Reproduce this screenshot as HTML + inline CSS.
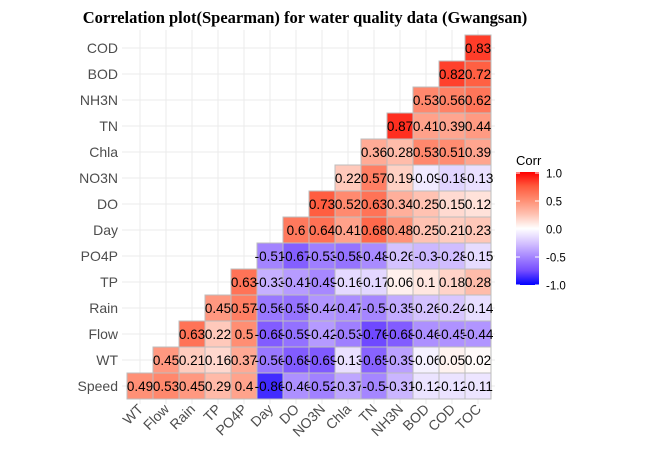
<!DOCTYPE html>
<html><head><meta charset="utf-8"><style>
body{margin:0;background:#fff;}
svg{display:block;font-family:"Liberation Sans",sans-serif;}
</style></head><body>
<svg id="chart" width="645" height="459">
<text x="305" y="23" text-anchor="middle" font-family="Liberation Serif, serif" font-weight="bold" font-size="16.5" fill="#000">Correlation plot(Spearman) for water quality data (Gwangsan)</text>
<g id="grid"></g>
<g id="tiles"></g>
<g id="labels"></g>
<g id="legend">
<text x="516" y="165" font-size="13" fill="#000">Corr</text>
<defs><linearGradient id="lg" x1="0" y1="0" x2="0" y2="1">
<stop offset="0" stop-color="#FF0000"/><stop offset="0.125" stop-color="#FF5A3D"/><stop offset="0.25" stop-color="#FF8E73"/><stop offset="0.375" stop-color="#FFC2B2"/><stop offset="0.5" stop-color="#FFFFFF"/><stop offset="0.625" stop-color="#D6C4FF"/><stop offset="0.75" stop-color="#A586FF"/><stop offset="0.875" stop-color="#744CFF"/><stop offset="1" stop-color="#0000FF"/>
</linearGradient></defs>
<rect x="516" y="172" width="23" height="113" fill="url(#lg)"/>
</g>
</svg>
<script>
const xVars=["WT","Flow","Rain","TP","PO4P","Day","DO","NO3N","Chla","TN","NH3N","BOD","COD","TOC"];
const yVars=["Speed","WT","Flow","Rain","TP","PO4P","Day","DO","NO3N","Chla","TN","NH3N","BOD","COD"];
const corrRows=[
[0.49,0.53,0.45,0.29,0.4,-0.86,-0.46,-0.52,-0.37,-0.5,-0.31,-0.12,-0.12,-0.11],
[0.45,0.21,0.16,0.37,-0.56,-0.68,-0.69,-0.13,-0.65,-0.39,-0.06,0.05,0.02],
[0.63,0.22,0.5,-0.68,-0.59,-0.42,-0.53,-0.76,-0.68,-0.46,-0.45,-0.44],
[0.45,0.57,-0.56,-0.58,-0.44,-0.47,-0.5,-0.35,-0.26,-0.24,-0.14],
[0.63,-0.33,-0.41,-0.49,-0.16,-0.17,0.06,0.1,0.18,0.28],
[-0.51,-0.67,-0.53,-0.58,-0.48,-0.26,-0.3,-0.28,-0.15],
[0.6,0.64,0.41,0.68,0.48,0.25,0.21,0.23],
[0.73,0.52,0.63,0.34,0.25,0.15,0.12],
[0.22,0.57,0.19,-0.09,-0.18,-0.13],
[0.36,0.28,0.53,0.51,0.39],
[0.87,0.41,0.39,0.44],
[0.53,0.56,0.62],
[0.82,0.72],
[0.83]
];
const legendTicks=[1.0,0.5,0.0,-0.5,-1.0];
const NS="http://www.w3.org/2000/svg";
const cell=26, left=127, bottom=399;
function xPos(i){return left+i*cell;}
function yPos(j){return bottom-(j+1)*cell;}
function lerp(a,b,t){return a+(b-a)*t;}
const posStops=[[0,[255,255,255]],[0.25,[255,194,178]],[0.5,[255,142,115]],[0.75,[255,90,61]],[1,[255,0,0]]];
const negStops=[[0,[255,255,255]],[0.25,[214,196,255]],[0.5,[165,134,255]],[0.75,[116,76,255]],[1,[0,0,255]]];
function color(v){const s=v>=0?posStops:negStops;const a=Math.min(1,Math.abs(v));
for(let k=1;k<s.length;k++){if(a<=s[k][0]){const t=(a-s[k-1][0])/(s[k][0]-s[k-1][0]);
const c=s[k-1][1].map((x,i)=>Math.round(lerp(x,s[k][1][i],t)));return `rgb(${c})`;}}return "red";}
function mk(tag,attrs,parent){const e=document.createElementNS(NS,tag);for(const k in attrs)e.setAttribute(k,attrs[k]);parent.appendChild(e);return e;}
const grid=document.getElementById('grid'),tiles=document.getElementById('tiles'),labels=document.getElementById('labels'),legend=document.getElementById('legend');
for(let i=0;i<xVars.length;i++){const l=mk('line',{x1:xPos(i)+cell/2,x2:xPos(i)+cell/2,y1:30,y2:404,stroke:'#EBEBEB','stroke-width':1},grid);

}
for(let j=0;j<yVars.length;j++){const l=mk('line',{x1:122,x2:495,y1:yPos(j)+cell/2,y2:yPos(j)+cell/2,stroke:'#EBEBEB','stroke-width':1},grid);

}
corrRows.forEach((row,j)=>{row.forEach((v,k)=>{const i=j+k;
const r=mk('rect',{x:xPos(i),y:yPos(j),width:cell,height:cell,fill:color(v),stroke:'#BDBDBD','stroke-width':1},tiles);


const t=mk('text',{x:xPos(i)+cell/2,y:yPos(j)+cell/2+5,'text-anchor':'middle','font-size':13.5,fill:'#000'},tiles);
t.textContent=String(v);

});});
yVars.forEach((n,j)=>{const t=mk('text',{x:118,y:yPos(j)+cell/2+5,'text-anchor':'end','font-size':14,fill:'#4D4D4D'},labels);
t.textContent=n;

});
xVars.forEach((n,i)=>{const cx=xPos(i)+cell/2+4,cy=410;
const t=mk('text',{x:cx,y:cy,'text-anchor':'end','font-size':14,fill:'#4D4D4D',transform:`rotate(-45 ${cx} ${cy})`},labels);
t.textContent=n;

});
legendTicks.forEach(v=>{const y=229-v*56;
mk('line',{x1:516,x2:520,y1:y,y2:y,stroke:'#fff'},legend);mk('line',{x1:535,x2:539,y1:y,y2:y,stroke:'#fff'},legend);
const t=mk('text',{x:546,y:y+4.5,'font-size':11.5,fill:'#000'},legend);
t.textContent=v.toFixed(1);

});
</script>
</body></html>
